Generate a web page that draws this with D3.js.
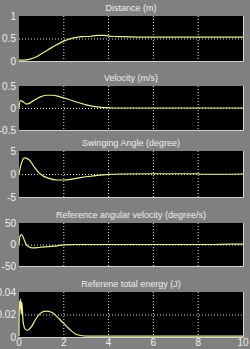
<!DOCTYPE html>
<html>
<head>
<meta charset="utf-8">
<script src="https://cdn.jsdelivr.net/npm/d3@7"></script>
<style>
  html, body { margin: 0; padding: 0; background: #808080; }
  svg { display: block; }
  text { font-family: "Liberation Sans", Arial, sans-serif; fill: #eeeeee; }
</style>
</head>
<body>
<svg id="chart"></svg>
<script>
const width = 250;
const height = 349;

// x ticks (time, s)
const xTicks = [0, 2, 4, 6, 8, 10];

// panel titles and y ticks
const titles = [
  "Distance (m)",
  "Velocity (m/s)",
  "Swinging Angle (degree)",
  "Reference angular velocity (degree/s)",
  "Referene total energy (J)"
];
const yTicks = [
  [0, 0.5, 1],
  [-0.5, 0, 0.5],
  [-5, 0, 5],
  [-50, 0, 50],
  [0, 0.02, 0.04]
];
const yTickLabels = [
  ["0", "0.5", "1"],
  ["-0.5", "0", "0.5"],
  ["-5", "0", "5"],
  ["-50", "0", "50"],
  ["0", "0.02", "0.04"]
];

// series, [t, value]
const distance = [
  [0, 0], [0.2, 0.01], [0.5, 0.04], [0.8, 0.1], [1.0, 0.16], [1.3, 0.25],
  [1.6, 0.34], [1.9, 0.42], [2.2, 0.48], [2.5, 0.52], [2.8, 0.54], [3.2, 0.55],
  [3.5, 0.57], [3.8, 0.57], [4.1, 0.55], [4.6, 0.54], [5.5, 0.53], [7, 0.53],
  [8.5, 0.53], [10, 0.53]
];
const velocity = [
  [0, 0], [0.05, 0.17], [0.15, 0.15], [0.35, 0.09], [0.6, 0.15], [0.9, 0.24],
  [1.2, 0.29], [1.5, 0.29], [1.8, 0.26], [2.2, 0.2], [2.6, 0.13], [3.0, 0.07],
  [3.4, 0.03], [3.8, 0.01], [4.2, 0], [6, 0], [8, 0], [10, 0]
];
const angle = [
  [0, 0], [0.1, 2.2], [0.25, 3.5], [0.45, 3.1], [0.7, 1.4], [0.95, 0],
  [1.3, -0.9], [1.7, -1.3], [2.0, -1.3], [2.5, -1.0], [3.0, -0.6], [3.5, -0.3],
  [4.0, -0.1], [4.5, 0], [6, 0.05], [8, 0.05], [8.1, -0.05], [9, -0.05],
  [9.9, 0], [10, 0.05]
];
const angVel = [
  [0, 0], [0.05, 20], [0.12, 23], [0.2, 15], [0.3, 2], [0.45, -6],
  [0.6, -8], [0.9, -7], [1.3, -5], [1.7, -3], [2.0, -1], [2.5, 0],
  [4, 0], [7, 0], [8.5, 0], [9.5, 1], [10, 1]
];
const energy = [
  [0, 0], [0.02, 0.032], [0.05, 0.025], [0.07, 0.034], [0.1, 0.02],
  [0.13, 0.031], [0.18, 0.014], [0.28, 0.007], [0.38, 0.006], [0.55, 0.009],
  [0.75, 0.016], [0.95, 0.021], [1.2, 0.023], [1.45, 0.022], [1.8, 0.016],
  [2.2, 0.008], [2.6, 0.002], [3.0, 0], [6, 0], [10, 0]
];
const series = [distance, velocity, angle, angVel, energy];

// panel box tops and bottoms
const panelTop = [16, 86, 151, 223, 292];
const panelBottom = [61, 130, 197, 266, 337];

const left = 19, right = 243;
const x = d3.scaleLinear().domain([0, 10]).range([left, right]);

const svg = d3.select("#chart")
  .attr("width", width)
  .attr("height", height);

titles.forEach((title, i) => {
  const ticks = yTicks[i];
  const y = d3.scaleLinear()
    .domain([ticks[0], ticks[ticks.length - 1]])
    .range([panelBottom[i], panelTop[i]]);

  const g = svg.append("g");

  g.append("rect")
    .attr("x", left)
    .attr("y", panelTop[i])
    .attr("width", right - left)
    .attr("height", panelBottom[i] - panelTop[i])
    .attr("fill", "#000");

  // grid
  xTicks.slice(1, -1).forEach(t => {
    g.append("line")
      .attr("x1", x(t)).attr("x2", x(t))
      .attr("y1", panelTop[i]).attr("y2", panelBottom[i])
      .attr("stroke", "#dddddd")
      .attr("stroke-width", 1)
      .attr("stroke-dasharray", "1,2");
  });
  g.append("line")
    .attr("x1", left).attr("x2", right)
    .attr("y1", y(ticks[1]) + 0.5).attr("y2", y(ticks[1]) + 0.5)
    .attr("stroke", "#dddddd")
    .attr("stroke-width", 1)
    .attr("stroke-dasharray", "1,2");

  // curve
  g.append("path")
    .datum(series[i])
    .attr("fill", "none")
    .attr("stroke", "#eeee99")
    .attr("stroke-width", 1.2)
    .attr("d", d3.line()
      .x(d => x(d[0]))
      .y(d => Math.min(y(d[1]), panelBottom[i] - 0.8))
      .curve(d3.curveMonotoneX));

  // light edge bottom and right
  g.append("path")
    .attr("d", `M${left},${panelBottom[i] + 0.5}H${right + 0.5}V${panelTop[i]}`)
    .attr("fill", "none")
    .attr("stroke", "#d0d0d0")
    .attr("stroke-width", 1);

  // title
  g.append("text")
    .attr("x", (left + right) / 2)
    .attr("y", panelTop[i] - 5)
    .attr("text-anchor", "middle")
    .attr("font-size", 9)
    .text(title);

  // y tick labels
  ticks.forEach((t, k) => {
    g.append("text")
      .attr("x", left - 3)
      .attr("y", y(t))
      .attr("dy", "0.35em")
      .attr("text-anchor", "end")
      .attr("font-size", 10)
      .text(yTickLabels[i][k]);
  });
});

// x tick labels, bottom panel only
svg.selectAll("text.xtick")
  .data(xTicks)
  .join("text")
  .attr("class", "xtick")
  .attr("x", d => x(d))
  .attr("y", 346)
  .attr("text-anchor", "middle")
  .attr("font-size", 10)
  .text(d => d);
</script>
</body>
</html>
